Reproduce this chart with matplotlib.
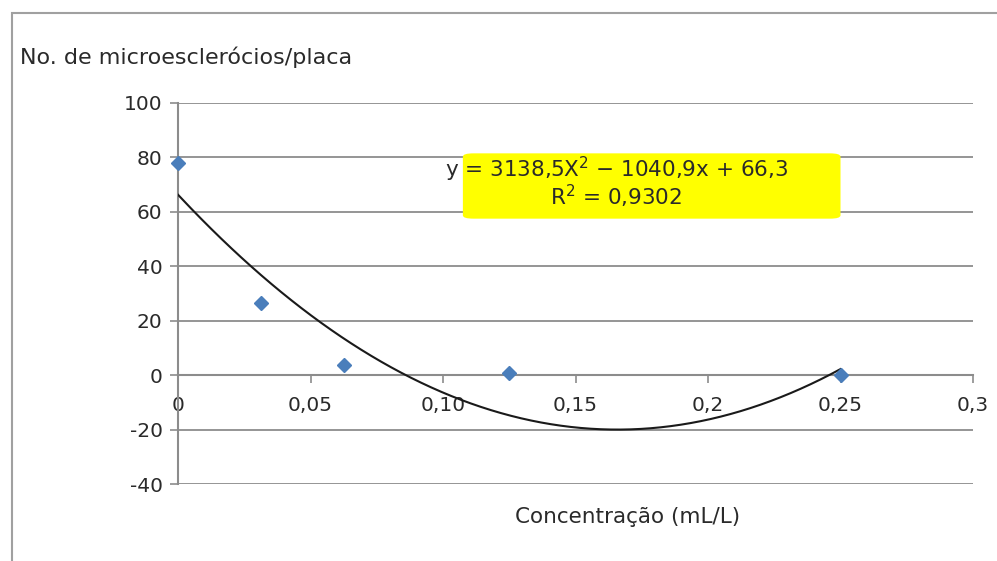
import matplotlib
matplotlib.use("Agg")
import matplotlib.pyplot as plt
import numpy as np
from matplotlib.patches import FancyBboxPatch, Rectangle

plt.rcParams["axes.unicode_minus"] = False

# dados
concentracao = [0, 0.03125, 0.0625, 0.125, 0.25]
microesclerocios = [78, 26.5, 3.7, 0.8, 0]
coef_tendencia = [3138.5, -1040.9, 66.3]  # y = a x^2 + b x + c (linha de tendencia)
xticks = [0, 0.05, 0.10, 0.15, 0.2, 0.25, 0.3]
xtick_labels = ["0", "0,05", "0,10", "0,15", "0,2", "0,25", "0,3"]
yticks = [-40, -20, 0, 20, 40, 60, 80, 100]

cinza = "#8c8c8c"
azul = "#4a7ebb"
texto = "#2a2a2a"

fig = plt.figure(figsize=(9.97, 5.61), dpi=100)
W, H = 997, 561

# moldura externa do grafico
fig.patches.append(Rectangle((12 / W, -0.1), 1.2, 1 - 13 / H + 0.1, transform=fig.transFigure,
                             fill=False, edgecolor="#a0a0a0", linewidth=1.5))

ax = fig.add_axes([178 / W, 1 - 484 / H, (973 - 178) / W, (484 - 103) / H])
ax.set_xlim(0, 0.3)
ax.set_ylim(-40, 100)

for s in ["top", "right"]:
    ax.spines[s].set_visible(False)
ax.spines["left"].set_color(cinza)
ax.spines["left"].set_linewidth(1.5)
ax.spines["bottom"].set_position(("data", 0))
ax.spines["bottom"].set_color(cinza)
ax.spines["bottom"].set_linewidth(1.5)

ax.set_yticks(yticks)
ax.set_xticks(xticks)
ax.set_xticklabels(xtick_labels)
ax.tick_params(axis="both", colors=cinza, labelcolor=texto, labelsize=14.5,
               length=6, width=1.2, direction="out")
ax.tick_params(axis="x", pad=9)
ax.tick_params(axis="y", pad=5)
ax.yaxis.grid(True, color=cinza, linewidth=1.3)
ax.set_axisbelow(True)

# linha de tendencia polinomial
xs = np.linspace(0, 0.25, 200)
ax.plot(xs, np.polyval(coef_tendencia, xs), color="#1a1a1a", linewidth=1.5, zorder=3)

ax.plot(concentracao, microesclerocios, linestyle="none", marker="D", markersize=7,
        color=azul, zorder=4, clip_on=False)

# caixa amarela da equacao
box = FancyBboxPatch((0.1075, 57.5), 0.1425, 24, boxstyle="round,pad=0,rounding_size=0.004",
                     facecolor="#ffff00", edgecolor="none", zorder=5, mutation_aspect=300)
ax.add_patch(box)
ax.text(0.1655, 75.7, "y = 3138,5X$^2$ − 1040,9x + 66,3", ha="center", va="center",
        fontsize=15.5, color=texto, zorder=6)
ax.text(0.1655, 65.8, "R$^2$ = 0,9302", ha="center", va="center",
        fontsize=15.5, color=texto, zorder=6)

fig.text(20 / W, 1 - 57 / H, "No. de microesclerócios/placa", ha="left", va="center",
         fontsize=16, color=texto)
fig.text(628 / W, 1 - 517 / H, "Concentração (mL/L)", ha="center", va="center",
         fontsize=15.5, color=texto)

fig.savefig("out.png", dpi=100)
